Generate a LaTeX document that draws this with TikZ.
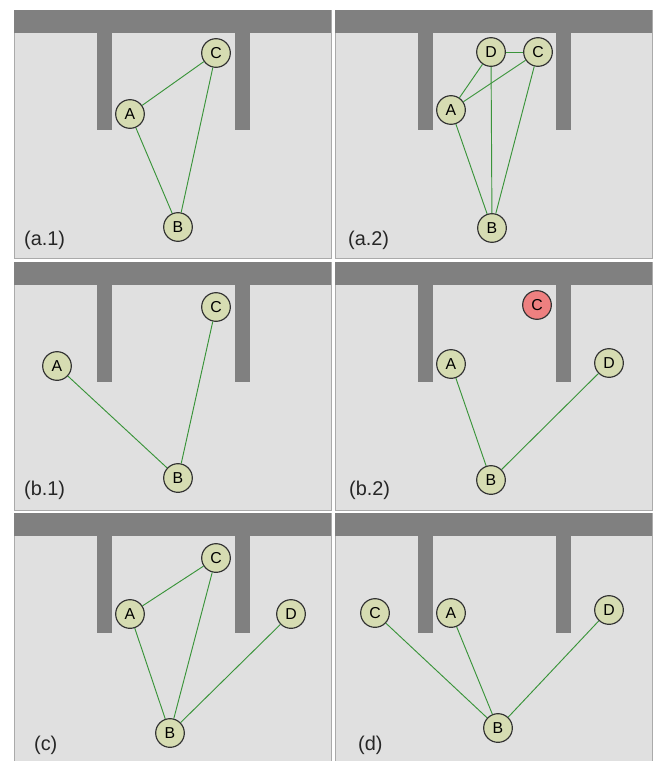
\documentclass[tikz,border=0pt]{standalone}
\usepackage{fontspec}
\setmainfont{Liberation Sans}
\usetikzlibrary{positioning}

\definecolor{roomgray}{RGB}{224,224,224}
\definecolor{wallgray}{RGB}{128,128,128}
\definecolor{framegray}{RGB}{170,170,170}
\definecolor{nodefill}{RGB}{214,220,178}
\definecolor{nodered}{RGB}{238,128,128}
\definecolor{linkgreen}{RGB}{58,148,58}

\begin{document}
\begin{tikzpicture}[
  x=0.03cm, y=-0.03cm,
  station/.style={circle, draw=black!80, line width=1pt, fill=nodefill,
                  minimum size=0.86cm, inner sep=0pt, font=\fontsize{13.5}{13.5}\selectfont},
  lost/.style={station, fill=nodered},
  link/.style={draw=linkgreen, line width=0.8pt},
  tag/.style={anchor=west, font=\fontsize{17}{17}\selectfont, text=black!85},
  walls/.pic={
    \fill[roomgray] (0,0) rectangle (317,248);
    \draw[framegray, line width=0.6pt] (0,0) rectangle (317,248);
    \fill[wallgray] (0,0) rectangle (317,23);
    \fill[wallgray] (83,23) rectangle (98,120);
    \fill[wallgray] (221,23) rectangle (236,120);
  },
]

\useasboundingbox (0,0) rectangle (655,761);

% ===== PANEL a.1 =====
\begin{scope}[shift={(14,10)}]
  \pic {walls};
  \node[station] (a1C) at (202,43) {C};
  \node[station] (a1A) at (116,104) {A};
  \node[station] (a1B) at (164,217) {B};
  \node[tag] (a1t) at (6,230) {(a.1)};
  \draw[link] (a1A) -- (a1C);
  \draw[link] (a1A) -- (a1B);
  \draw[link] (a1C) -- (a1B);
\end{scope}

% ===== PANEL a.2 =====
\begin{scope}[shift={(335,10)}]
  \pic {walls};
  \node[station] (a2D) at (156,42) {D};
  \node[station] (a2C) at (203,42) {C};
  \node[station] (a2A) at (116,100) {A};
  \node[station] (a2B) at (157,218) {B};
  \node[tag] (a2t) at (9,230) {(a.2)};
  \draw[link] (a2D) -- (a2C);
  \draw[link] (a2A) -- (a2D);
  \draw[link] (a2A) -- (a2C);
  \draw[link] (a2A) -- (a2B);
  \draw[link] (a2D) -- (a2B);
  \draw[link] (a2C) -- (a2B);
\end{scope}

% ===== PANEL b.1 =====
\begin{scope}[shift={(14,262)}]
  \pic {walls};
  \node[station] (b1C) at (202,45) {C};
  \node[station] (b1A) at (43,104) {A};
  \node[station] (b1B) at (164,216) {B};
  \node[tag] (b1t) at (6,228) {(b.1)};
  \draw[link] (b1A) -- (b1B);
  \draw[link] (b1C) -- (b1B);
\end{scope}

% ===== PANEL b.2 =====
\begin{scope}[shift={(335,262)}]
  \pic {walls};
  \node[lost] (b2C) at (202,43) {C};
  \node[station] (b2A) at (116,102) {A};
  \node[station] (b2D) at (274,101) {D};
  \node[station] (b2B) at (156,218) {B};
  \node[tag] (b2t) at (10,228) {(b.2)};
  \draw[link] (b2A) -- (b2B);
  \draw[link] (b2D) -- (b2B);
\end{scope}

% ===== PANEL c =====
\begin{scope}[shift={(14,513)}]
  \pic {walls};
  \node[station] (cC) at (202,45) {C};
  \node[station] (cA) at (116,101) {A};
  \node[station] (cD) at (277,101) {D};
  \node[station] (cB) at (156,220) {B};
  \node[tag] (ct) at (16,232) {(c)};
  \draw[link] (cA) -- (cC);
  \draw[link] (cA) -- (cB);
  \draw[link] (cC) -- (cB);
  \draw[link] (cD) -- (cB);
\end{scope}

% ===== PANEL d =====
\begin{scope}[shift={(335,513)}]
  \pic {walls};
  \node[station] (dC) at (40,100) {C};
  \node[station] (dA) at (116,100) {A};
  \node[station] (dD) at (274,97) {D};
  \node[station] (dB) at (163,215) {B};
  \node[tag] (dt) at (19,232) {(d)};
  \draw[link] (dC) -- (dB);
  \draw[link] (dA) -- (dB);
  \draw[link] (dD) -- (dB);
\end{scope}

\end{tikzpicture}
\end{document}
